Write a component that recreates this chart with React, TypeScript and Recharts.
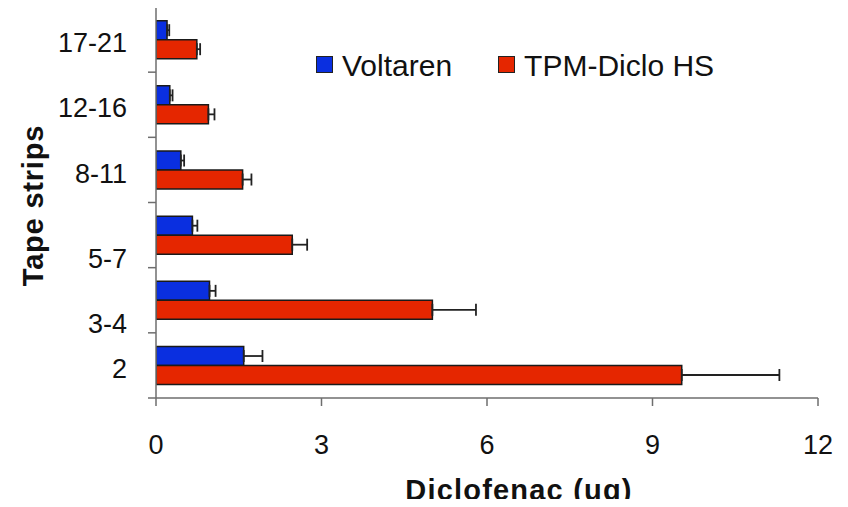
import React from 'react';
import { BarChart, Bar, XAxis, YAxis, ErrorBar } from 'recharts';

const categories = ['17-21', '12-16', '8-11', '5-7', '3-4', '2'];
const voltaren = [0.2, 0.25, 0.45, 0.66, 0.97, 1.59];
const voltarenErr = [0.04, 0.05, 0.06, 0.09, 0.11, 0.34];
const tpm = [0.74, 0.95, 1.57, 2.47, 5.01, 9.53];
const tpmErr = [0.06, 0.11, 0.16, 0.27, 0.79, 1.77];
const xTicks = [0, 3, 6, 9, 12];

const seriesNames = ['Voltaren', 'TPM-Diclo HS'];
const BLUE = '#0a2fe0';
const RED = '#e52600';
const FONT = '"Liberation Sans", Arial, Helvetica, sans-serif';
const AXIS_COLOR = '#6e6e6e';

const data = categories.map((c, i) => ({
  cat: c,
  voltaren: voltaren[i],
  vErr: [0, voltarenErr[i]],
  tpm: tpm[i],
  tErr: [0, tpmErr[i]],
}));

const TICK_SIZE = 8;
const TICK_MARGIN = 21;
// quirky label offsets seen in the original (labels pushed down)
const LABEL_SHIFT: Record<string, number> = { '5-7': 20, '3-4': 20 };

const YTick = (props: any) => {
  const { x, y, payload, index } = props;
  const half = payload && payload.offset ? payload.offset : 32.6;
  const axisX = x + TICK_SIZE + TICK_MARGIN;
  const shift = 3 + (LABEL_SHIFT[payload.value] || 0);
  return (
    <g>
      <line x1={axisX - TICK_SIZE} x2={axisX} y1={y - half} y2={y - half} stroke={AXIS_COLOR} strokeWidth={1.5} />
      {index === categories.length - 1 && (
        <line x1={axisX - TICK_SIZE} x2={axisX} y1={y + half} y2={y + half} stroke={AXIS_COLOR} strokeWidth={1.5} />
      )}
      <text x={x} y={y + shift} dy="0.355em" textAnchor="end" fontSize={27} fill="#111" fontFamily={FONT}>
        {payload.value}
      </text>
    </g>
  );
};

const LegendBox = () => {
  const colors = [BLUE, RED];
  return (
    <div style={{ position: 'absolute', left: 316, top: 51, display: 'flex', alignItems: 'center', fontFamily: FONT, fontSize: 30, lineHeight: '30px', color: '#111' }}>
      {seriesNames.map((n, i) => (
        <div key={n} style={{ display: 'flex', alignItems: 'center', marginRight: i === 0 ? 46 : 0 }}>
          <div style={{ width: 15, height: 15, background: colors[i], border: '1.5px solid #222', marginRight: 9, marginTop: -4 }} />
          <span>{n}</span>
        </div>
      ))}
    </div>
  );
};

const XTitle = (props: any) => {
  const vb = props.viewBox || {};
  return (
    <text x={vb.x + vb.width / 2 + 32} y={vb.y + vb.height - 7} textAnchor="middle" fontSize={29} fontWeight="bold" letterSpacing={1.2} fill="#111" fontFamily={FONT}>
      Diclofenac (ug)
    </text>
  );
};

const YTitle = (props: any) => {
  const vb = props.viewBox || {};
  const cx = vb.x + 33;
  const cy = vb.y + vb.height / 2 + 3;
  return (
    <text x={cx} y={cy} dy="0.35em" transform={`rotate(-90, ${cx}, ${cy})`} textAnchor="middle" fontSize={29} fontWeight="bold" letterSpacing={0.8} fill="#111" fontFamily={FONT}>
      Tape strips
    </text>
  );
};

export default function App() {
  return (
    <div style={{ margin: -8, width: 848, height: 507, background: '#fff', position: 'relative' }}>
      <BarChart
        width={848}
        height={507}
        data={data}
        layout="vertical"
        margin={{ top: 7, right: 30, bottom: 0, left: 0 }}
        barCategoryGap="21%"
        barGap={0}
      >
        <XAxis
          type="number"
          domain={[0, 12]}
          ticks={xTicks}
          height={109}
          axisLine={{ stroke: AXIS_COLOR, strokeWidth: 1.5 }}
          tickLine={{ stroke: AXIS_COLOR, strokeWidth: 1.5 }}
          tickSize={8}
          tickMargin={29}
          tick={{ fontSize: 27, fill: '#111', fontFamily: FONT }}
          label={<XTitle />}
          allowDataOverflow
        />
        <YAxis
          type="category"
          dataKey="cat"
          width={156}
          interval={0}
          axisLine={{ stroke: AXIS_COLOR, strokeWidth: 1.5 }}
          tickLine={false}
          tickSize={TICK_SIZE}
          tickMargin={TICK_MARGIN}
          tick={<YTick />}
          label={<YTitle />}
        />
        <Bar dataKey="voltaren" name={seriesNames[0]} fill={BLUE} stroke="#1a1a1a" strokeWidth={1.5} isAnimationActive={false}>
          <ErrorBar dataKey="vErr" direction="x" width={6} stroke="#222" strokeWidth={1.8} isAnimationActive={false} />
        </Bar>
        <Bar dataKey="tpm" name={seriesNames[1]} fill={RED} stroke="#1a1a1a" strokeWidth={1.5} isAnimationActive={false}>
          <ErrorBar dataKey="tErr" direction="x" width={6} stroke="#222" strokeWidth={1.8} isAnimationActive={false} />
        </Bar>
      </BarChart>
      <LegendBox />
    </div>
  );
}
